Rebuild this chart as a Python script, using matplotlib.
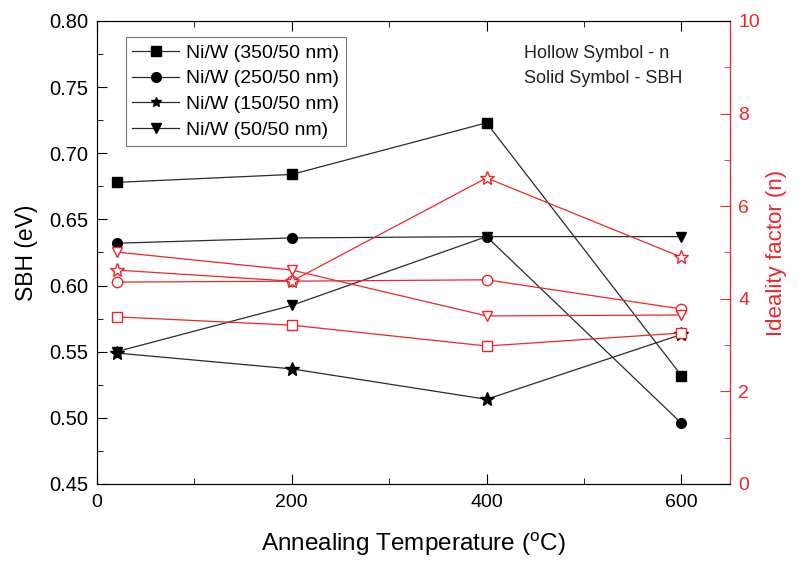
import matplotlib.pyplot as plt
from matplotlib.ticker import MultipleLocator

plt.rcParams['font.family'] = ['Liberation Sans', 'DejaVu Sans']

temps = [20, 200, 400, 600]
labels = ['Ni/W (350/50 nm)', 'Ni/W (250/50 nm)', 'Ni/W (150/50 nm)', 'Ni/W (50/50 nm)']
markers = ['s', 'o', '*', 'v']

sbh_350 = [0.678, 0.684, 0.723, 0.532]
sbh_250 = [0.632, 0.636, 0.637, 0.496]
sbh_150 = [0.549, 0.537, 0.514, 0.563]
sbh_50 = [0.550, 0.585, 0.637, 0.637]

n_350 = [3.61, 3.43, 2.98, 3.26]
n_250 = [4.36, 4.38, 4.41, 3.78]
n_150 = [4.62, 4.38, 6.61, 4.90]
n_50 = [5.01, 4.62, 3.63, 3.65]

sbh_all = [sbh_350, sbh_250, sbh_150, sbh_50]
n_all = [n_350, n_250, n_150, n_50]

red = '#e8282c'
blk = '#2a2a2a'

fig = plt.figure(figsize=(7.98, 5.61), dpi=100)
ax = fig.add_axes([0.1216, 0.1373, 0.7932, 0.8253])
ax2 = ax.twinx()

for sbh, m, lab in zip(sbh_all, markers, labels):
    ms = 10 if m == '*' else 7
    ax.plot(temps, sbh, color=blk, lw=0.9, marker=m, ms=ms, mfc='black', mec='black', label=lab)

for n, m in zip(n_all, markers):
    ms = 10 if m == '*' else 7.5
    ax2.plot(temps, n, color=red, lw=0.9, marker=m, ms=ms, mfc='white', mec=red, mew=1.0)

ax.set_xlim(0, 650)
ax.set_ylim(0.45, 0.80)
ax2.set_ylim(0, 10)

ax.set_xticks([0, 200, 400, 600])
ax.xaxis.set_minor_locator(MultipleLocator(100))
ax.yaxis.set_major_locator(MultipleLocator(0.05))
ax.yaxis.set_minor_locator(MultipleLocator(0.025))
ax.yaxis.set_major_formatter(plt.FormatStrFormatter('%.2f'))
ax2.yaxis.set_major_locator(MultipleLocator(2))
ax2.yaxis.set_minor_locator(MultipleLocator(1))

ax.tick_params(axis='x', which='both', direction='in', top=True, labelsize=14, pad=7)
ax.tick_params(axis='x', which='major', length=7)
ax.tick_params(axis='x', which='minor', length=4)
ax.tick_params(axis='y', which='both', direction='in', right=False, labelsize=14.5, pad=6)
ax.tick_params(axis='y', which='major', length=7)
ax.tick_params(axis='y', which='minor', length=4)
ax2.tick_params(axis='y', which='both', direction='in', colors=red, labelsize=14, pad=6)
ax2.tick_params(axis='y', which='major', length=7)
ax2.tick_params(axis='y', which='minor', length=4)
ax2.spines['right'].set_color(red)
for s in ['left', 'top', 'bottom']:
    ax.spines[s].set_color(blk)

ax.set_xlabel('Annealing Temperature ($^{\\mathregular{o}}$C)', fontsize=17.5, labelpad=14)
ax.set_ylabel('SBH (eV)', fontsize=16.5, labelpad=8)
ax2.set_ylabel('Ideality factor (n)', fontsize=16, color=red, labelpad=4)

leg = ax.legend(loc='upper left', bbox_to_anchor=(0.045, 0.965), fontsize=14, frameon=True,
                fancybox=False, edgecolor='#555555', handlelength=2.4, labelspacing=0.42,
                borderpad=0.35, handletextpad=0.35, borderaxespad=0)
leg.get_frame().set_linewidth(0.8)
for h in leg.legend_handles:
    h.set_markersize(7)

ax.text(0.674, 0.92, 'Hollow Symbol - n', transform=ax.transAxes, fontsize=13, color='#222222')
ax.text(0.674, 0.866, 'Solid Symbol - SBH', transform=ax.transAxes, fontsize=13, color='#222222')

fig.savefig('out.png', dpi=100)
